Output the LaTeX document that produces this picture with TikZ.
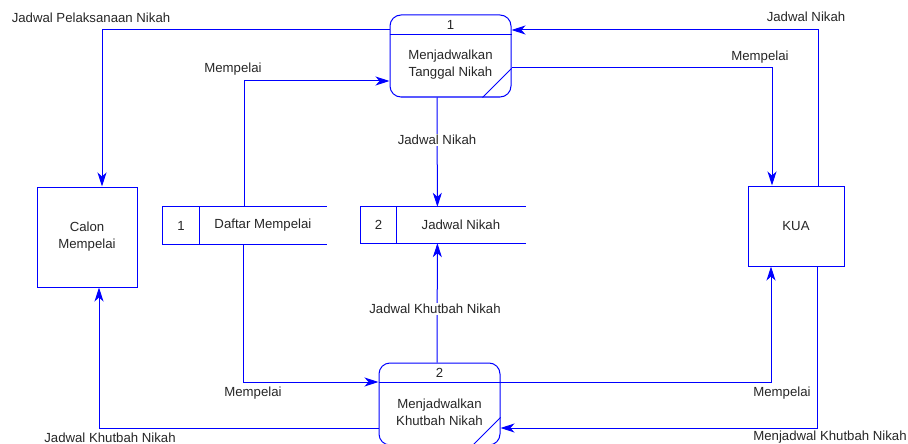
\documentclass[tikz,border=0pt]{standalone}
\usepackage{fontspec}
\setmainfont{Liberation Sans}
\usepackage{xcolor}
\usetikzlibrary{arrows.meta,positioning}
\tikzset{
  garis/.style={draw=blue,line width=1pt},
  proses/.style={garis,rounded corners=11pt,minimum width=121pt,minimum height=82pt,inner sep=0pt},
  entitas/.style={garis,inner sep=0pt},
  simpan/.style={inner sep=0pt,minimum height=37pt,text=black!85},
  alur/.style={blue,line width=1pt,-{Stealth[length=14pt,width=9pt,inset=4pt]}},
  ket/.style={text=black!85,inner sep=1pt},
  ketp/.style={ket,fill=white}
}
\begin{document}
\begin{tikzpicture}[x=1pt,y=-1pt,font=\fontsize{13.2}{17}\selectfont]
\useasboundingbox (0,0) rectangle (908,444);
% entitas luar
\node[entitas,minimum width=100pt,minimum height=100pt] (calon) at (87,237) {};
\node[entitas,minimum width=96pt,minimum height=80pt] (kua) at (796,226) {};
\node[ket,align=center] (calont) at (calon.center) {Calon\\Mempelai};
\node[ket] (kuat) at (kua.center) {KUA};
% proses
\node[proses] (p1) at (450.5,56) {};
\node[ket] (p1n) at ([yshift=-10pt]p1.north) {1};
\node[ket,align=center] (p1t) at ([yshift=-8.5pt]p1.center) {Menjadwalkan\\Tanggal Nikah};
\draw[garis] ([yshift=-20pt]p1.north west) -- ([yshift=-20pt]p1.north east);
\draw[garis] ([xshift=-29pt]p1.south east) -- ([yshift=29pt]p1.south east);
\node[proses] (p2) at (439.5,404) {};
\node[ket] (p2n) at ([yshift=-10pt]p2.north) {2};
\node[ket,align=center] (p2t) at ([yshift=-8pt]p2.center) {Menjadwalkan\\Khutbah Nikah};
\draw[garis] ([yshift=-20pt]p2.north west) -- ([yshift=-20pt]p2.north east);
\draw[garis] ([xshift=-28pt]p2.south east) -- ([yshift=28pt]p2.south east);
% data store
\node[simpan,minimum width=36pt] (ds1) at (181,225.5) {1};
\node[simpan,minimum width=127pt,right=0pt of ds1] (ds1t) {Daftar Mempelai};
\draw[garis] (ds1t.north east) -- (ds1.north west) -- (ds1.south west) -- (ds1t.south east);
\draw[garis] (ds1.north east) -- (ds1.south east);
\node[simpan,minimum width=35pt,minimum height=36pt] (ds2) at (378.5,225) {2};
\node[simpan,minimum width=129pt,minimum height=36pt,right=0pt of ds2] (ds2t) {Jadwal Nikah};
\draw[garis] (ds2t.north east) -- (ds2.north west) -- (ds2.south west) -- (ds2t.south east);
\draw[garis] (ds2.north east) -- (ds2.south east);
% alur data
\draw[alur] ([yshift=26pt]p1.west) -| ([xshift=15pt]calon.north);
\draw[alur] ([xshift=22pt]kua.north) |- ([yshift=26pt]p1.east);
\draw[alur] ([yshift=-12pt]p1.east) -| ([xshift=-24pt]kua.north);
\draw[alur] ([xshift=-18.5pt]ds1t.north) |- ([yshift=-25pt]p1.west);
\draw[alur] ([xshift=-13.5pt]p1.south) -- ([xshift=-23.5pt]ds2t.north);
\draw[alur] ([xshift=-2.5pt]p2.north) -- ([xshift=-23.5pt]ds2t.south);
\draw[alur] ([xshift=-19.5pt]ds1t.south) |- ([yshift=22pt]p2.west);
\draw[alur] ([yshift=-24pt]p2.west) -| ([xshift=12pt]calon.south);
\draw[alur] ([yshift=22pt]p2.east) -| ([xshift=-25pt]kua.south);
\draw[alur] ([xshift=21pt]kua.south) |- ([yshift=-24pt]p2.east);
% keterangan
\node[ket] (k1) at (91,18) {Jadwal Pelaksanaan Nikah};
\node[ket] (k2) at (806,17) {Jadwal Nikah};
\node[ket] (k3) at (760,57) {Mempelai};
\node[ket] (k4) at (233,69) {Mempelai};
\node[ketp] (k5) at (437,140) {Jadwal Nikah};
\node[ketp] (k6) at (435,309) {Jadwal Khutbah Nikah};
\node[ket] (k7) at (253,393) {Mempelai};
\node[ket] (k8) at (110,438) {Jadwal Khutbah Nikah};
\node[ket] (k9) at (782,393) {Mempelai};
\node[ket] (k10) at (830,437) {Menjadwal Khutbah Nikah};
\end{tikzpicture}
\end{document}
